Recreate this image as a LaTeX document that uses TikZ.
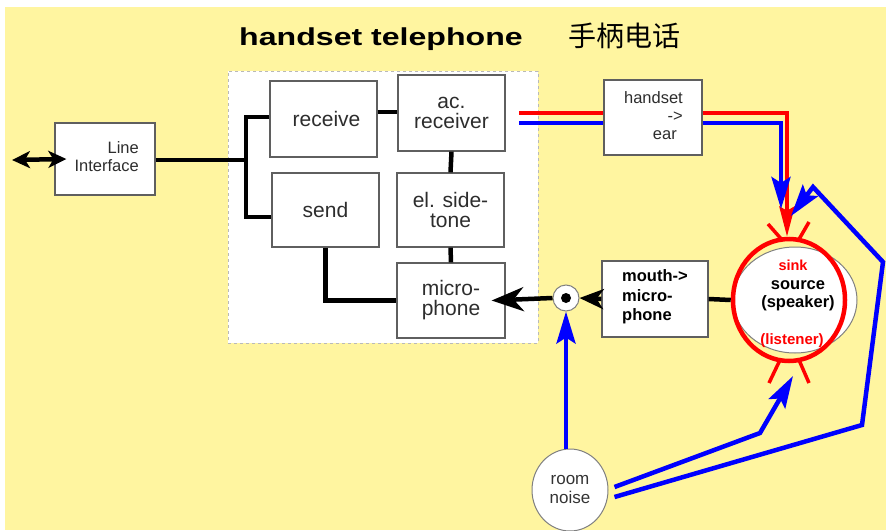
\documentclass[tikz,border=0pt]{standalone}
\usepackage{fontspec}
\setmainfont{Liberation Sans}
\newfontfamily\cjk{Noto Sans CJK SC}
\usetikzlibrary{arrows.meta,shapes.geometric,calc}
\definecolor{bgy}{RGB}{255,245,160}
\definecolor{bx}{RGB}{95,95,95}
\definecolor{tx}{RGB}{45,45,45}
\definecolor{bl}{RGB}{0,0,255}
\definecolor{rd}{RGB}{255,0,0}
\begin{document}
\begin{tikzpicture}[x=1pt,y=-1pt,
  box/.style={draw=bx,line width=1.3pt,fill=white,inner sep=0pt,text=tx,align=center,
    font=\fontsize{21}{20}\selectfont},
  lbl/.style={inner sep=0pt,text=tx,font=\fontsize{16.5}{18}\selectfont},
  conn/.style={line width=4.5pt,black},
  bline/.style={line width=4.5pt,bl},
  rline/.style={line width=4.5pt,rd},
  ear/.style={line width=3.5pt,rd},
  bigtip/.style={-{Stealth[length=32pt,width=24pt,inset=10pt]}},
  midtip/.style={-{Stealth[length=24pt,width=20pt,inset=7pt]}},
  bluetip/.style={-{Stealth[length=32pt,width=19pt,inset=6pt]}},
  redtip/.style={-{Stealth[length=30pt,width=15pt,inset=4pt]}},
  dtip/.tip={Stealth[length=18pt,width=17pt,inset=5pt]},
]
\useasboundingbox (0,0) rectangle (886,530);
\fill[bgy] (5,7) rectangle (886,530);

% title
\node[font=\fontsize{24.5}{24}\selectfont\bfseries,anchor=base,inner sep=0pt] (title) at (381,45)
  {\scalebox{1.31}[1]{handset telephone}};
\node[font=\cjk\fontsize{28}{28}\selectfont,inner sep=0pt] (cn) at (624,36) {手柄电话};

% handset enclosure
\node[draw=gray!55,dashed,line width=1pt,fill=white,minimum width=310pt,minimum height=272pt,inner sep=0pt] (hsbox) at (383,207) {};

% inner blocks
\node[box,minimum width=107pt,minimum height=76pt] (recv) at (323.5,119) {\hspace*{6pt}receive};
\node[box,minimum width=107pt,minimum height=76pt] (acr) at (451.5,113) {ac.\\receiver};
\node[box,minimum width=107pt,minimum height=74pt] (send) at (325.5,210) {send};
\node[box,minimum width=107pt,minimum height=74pt] (els) at (450.5,210) {el. side-\\tone};
\node[box,minimum width=108pt,minimum height=75pt] (mic) at (451,300.5) {micro-\\phone};

% line interface
\node[box,minimum width=100pt,minimum height=72pt] (li) at (105,159) {};
\node[lbl,anchor=east,align=right] (litxt) at (139,157) {Line\\Interface};

% handset -> ear
\node[box,minimum width=98pt,minimum height=75pt] (hs) at (653,117.5) {};
\node[lbl,anchor=east,align=right] (hstxt) at (683,116) {handset\\->\hspace*{6pt}\\ear\hspace*{6pt}};

% mouth -> microphone
\node[box,minimum width=106pt,minimum height=76pt] (mouth) at (655,299) {};
\node[lbl,anchor=west,align=left,text=black,font=\fontsize{16.5}{19.5}\selectfont\bfseries] (mtxt) at (622,297) {mouth->\\micro-\\phone};

% speaker / listener
\node[ellipse,draw=gray,line width=1pt,fill=white,minimum width=124pt,minimum height=106pt,inner sep=0pt] (spk) at (795,300) {};
\node[ellipse,draw=rd,line width=4.5pt,minimum width=112pt,minimum height=122pt,inner sep=0pt] (ring) at (789,300) {};
\node[inner sep=0pt,text=rd,font=\fontsize{14.5}{14}\selectfont\bfseries] (sink) at (793,265) {sink};
\node[inner sep=0pt,text=black,font=\fontsize{16.5}{18}\selectfont\bfseries,align=center] (src) at (798,296) {source\\(speaker)};
\node[inner sep=0pt,text=rd,font=\fontsize{15}{15}\selectfont\bfseries] (lis) at (792,341) {(listener)};

% ears
\draw[ear] (768,224) -- (783,241);
\draw[ear] (809,222) -- (798,241);
\draw[ear] (769,383) -- (780,360);
\draw[ear] (809,383) -- (799,360);

% room noise
\node[ellipse,draw=gray,line width=1pt,fill=white,minimum width=76pt,minimum height=82pt,inner sep=0pt,
  text=gray!40!black,align=center,font=\fontsize{17}{19}\selectfont] (room) at (570,490) {room\\noise};

% junction
\node[circle,draw=gray,line width=1pt,fill=white,minimum size=26pt,inner sep=0pt] (jn) at (566,298) {};
\fill[black] (jn.center) circle (5pt);

% black connectors
\coordinate (br) at (246,160);
\draw[conn] (li.east |- br) -- (br);
\draw[conn] (recv.west |- 0,117) -| (br) |- (send.west |- 0,217);
\draw[conn] (recv.east |- 0,112) -- (acr.west |- 0,112);
\draw[conn] (acr.south) -- (els.north);
\draw[conn] (els.south) -- (mic.north);
\draw[conn] (send.south) |- (mic.west);
\coordinate (da) at (12,160);
\draw[conn,dtip-dtip] (da) -- ([xshift=12pt]li.west);
\draw[conn,bigtip] (jn.west) -- ([xshift=-14pt]mic.east);
\draw[conn,midtip] (mouth.west) -- (jn.east);
\draw[conn] (ring.west) -- (mouth.east);

% red / blue acoustic paths from receiver
\coordinate (rs) at (519,113);
\coordinate (bs) at (519,123);
\coordinate (rc) at (787,113);
\coordinate (bc) at (781,123);
\draw[rline] (rs) -- (hs.west |- rs);
\draw[bline] (bs) -- (hs.west |- bs);
\draw[rline,redtip] (hs.east |- rc) -- (rc) -- (rc |- ring.north);
\coordinate (bt) at (781,209);
\draw[bline,bluetip] (hs.east |- bc) -- (bc) -- (bt);

% room noise paths
\draw[bline,bluetip] (jn.south |- room.north) -- (jn.south);
\coordinate (p1) at (760,433);
\coordinate (p2) at (793,376);
\draw[bline,bluetip] ([xshift=6pt,yshift=3pt]room.east) -- (p1) -- (p2);
\coordinate (q1) at (862,425);
\coordinate (q2) at (883,262);
\coordinate (q3) at (813,187);
\coordinate (q4) at (791,216);
\draw[bline,bluetip] ([xshift=6pt,yshift=-7pt]room.east) -- (q1) -- (q2) -- (q3) -- (q4);
\end{tikzpicture}
\end{document}
